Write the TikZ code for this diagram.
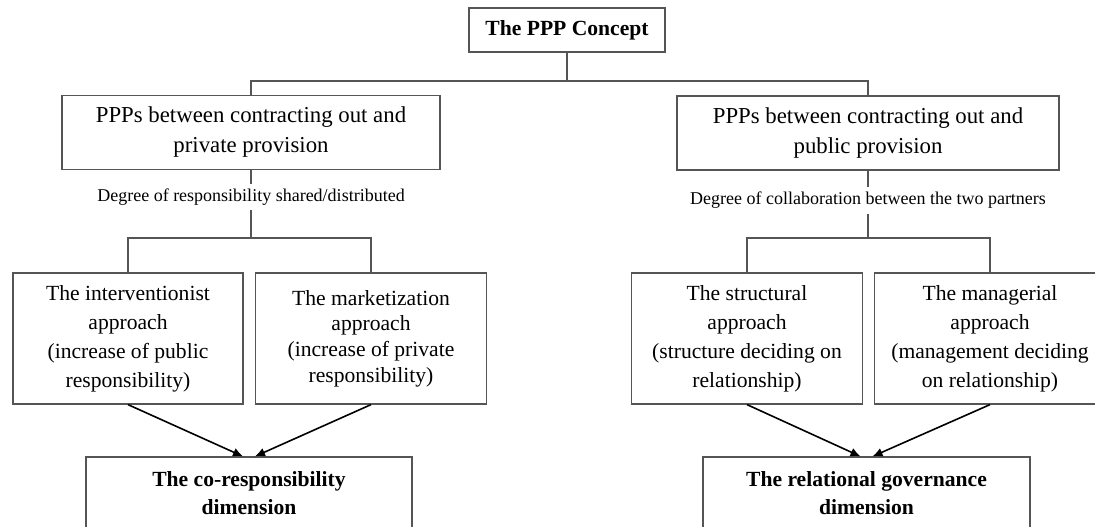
\documentclass[tikz,border=0pt]{standalone}
\usepackage{fontspec}
\setmainfont{Liberation Serif}
\usetikzlibrary{arrows.meta}
\definecolor{linegray}{RGB}{85,85,85}
\begin{document}
\begin{tikzpicture}[x=0.5pt, y=-0.5pt, >={Latex[length=5pt,width=4.5pt]},
  box/.style={draw=linegray, line width=0.6pt, align=center, inner sep=0pt},
  conn/.style={draw=linegray, line width=0.6pt},
  arr/.style={->, line width=0.8pt, black},
  degree/.style={font=\fontsize{9}{10}\selectfont, inner xsep=1pt, inner ysep=2.4pt}]
  \useasboundingbox (0,0) rectangle (1095,526);

  \node[box, minimum width=98pt, minimum height=22pt,
    font=\bfseries\fontsize{10.8}{13}\selectfont] (concept) at (567,30) {The PPP Concept};

  \node[box, minimum width=189pt, minimum height=37pt,
    font=\fontsize{11.4}{15}\selectfont] (privprov) at (251,132.5)
    {PPPs between contracting out and\\private provision};
  \node[box, minimum width=191pt, minimum height=37pt,
    font=\fontsize{11.4}{15}\selectfont] (pubprov) at (868,133)
    {PPPs between contracting out and\\public provision};

  \node[degree] (resp) at (251,197) {Degree of responsibility shared/distributed};
  \node[degree] (collab) at (868,200.5) {Degree of collaboration between the two partners};

  \node[box, minimum width=115pt, minimum height=65.5pt,
    font=\fontsize{10.8}{14.5}\selectfont] (interv) at (128,338.5)
    {The interventionist\\approach\\(increase of public\\responsibility)};
  \node[box, minimum width=115.5pt, minimum height=65.5pt,
    font=\fontsize{10.8}{12.8}\selectfont] (market) at (371,338.5)
    {The marketization\\approach\\(increase of private\\responsibility)};
  \node[box, minimum width=115.5pt, minimum height=65.5pt,
    font=\fontsize{10.8}{14.5}\selectfont] (struct) at (747,338.5)
    {The structural\\approach\\(structure deciding on\\relationship)};
  \node[box, minimum width=115.5pt, minimum height=65.5pt,
    font=\fontsize{10.8}{14.5}\selectfont] (manag) at (990,338.5)
    {The managerial\\approach\\(management deciding\\on relationship)};

  \node[box, minimum width=163pt, minimum height=36pt,
    font=\bfseries\fontsize{10.8}{14}\selectfont] (coresp) at (249,493)
    {The co-responsibility\\dimension};
  \node[box, minimum width=163.5pt, minimum height=36pt,
    font=\bfseries\fontsize{10.8}{14}\selectfont] (relgov) at (866.5,493)
    {The relational governance\\dimension};

  \coordinate (topbar) at (567,81);
  \coordinate (lbar) at (251,238);
  \coordinate (rbar) at (868,238);

  \draw[conn] (concept.south) -- (topbar);
  \draw[conn] (privprov.north) |- (topbar) -| (pubprov.north);

  \draw[conn] (privprov.south) -- (resp.north);
  \draw[conn] (resp.south) -- (lbar);
  \draw[conn] (interv.north) |- (lbar) -| (market.north);

  \draw[conn] (pubprov.south) -- (collab.north);
  \draw[conn] (collab.south) -- (rbar);
  \draw[conn] (struct.north) |- (rbar) -| (manag.north);

  \draw[arr] (interv.south) -- ([xshift=-3pt]coresp.north);
  \draw[arr] (market.south) -- ([xshift=3pt]coresp.north);
  \draw[arr] (struct.south) -- ([xshift=-3pt]relgov.north);
  \draw[arr] (manag.south) -- ([xshift=3pt]relgov.north);
\end{tikzpicture}
\end{document}
